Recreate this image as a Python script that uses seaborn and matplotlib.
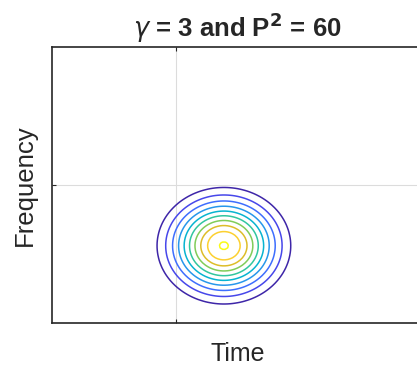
import numpy as np
import matplotlib
matplotlib.use("Agg")
import matplotlib.pyplot as plt
from matplotlib.colors import LinearSegmentedColormap
import seaborn as sns

# time / frequency ranges of the plot (arbitrary units)
time_range = [0.0, 3.0]
freq_range = [0.0, 2.0]
time_ticks = [1.0]
freq_ticks = [1.0]

# pulse: centre, spreads, peak
pulse_center_t = 1.39
pulse_center_f = 0.56
pulse_sigma_t = 0.288
pulse_sigma_f = 0.225
pulse_peak = 0.988

# contour levels (10 evenly spaced lines)
levels = [0.17, 0.26, 0.35, 0.44, 0.53, 0.62, 0.71, 0.80, 0.89, 0.98]

# parula-like colours
parula_anchors = [
    (0.2422, 0.1504, 0.6603), (0.2803, 0.2782, 0.9221), (0.2440, 0.4358, 0.9988),
    (0.1540, 0.5902, 0.9218), (0.0297, 0.7082, 0.8163), (0.1938, 0.7758, 0.6251),
    (0.5044, 0.7993, 0.3480), (0.8634, 0.7406, 0.1596), (0.9892, 0.8136, 0.1885),
    (0.9769, 0.9839, 0.0805),
]
parula = LinearSegmentedColormap.from_list("parula", parula_anchors)

sns.set_style("white")
plt.rcParams["font.family"] = ["Liberation Sans", "DejaVu Sans"]
plt.rcParams["mathtext.fontset"] = "dejavusans"

t = np.linspace(time_range[0], time_range[1], 151)
f = np.linspace(freq_range[0], freq_range[1], 111)
T, F = np.meshgrid(t, f)
Z = pulse_peak * np.exp(-((T - pulse_center_t) ** 2 / (2 * pulse_sigma_t ** 2)
                          + (F - pulse_center_f) ** 2 / (2 * pulse_sigma_f ** 2)))

fig = plt.figure(figsize=(4.17, 3.68), dpi=100)
ax = fig.add_axes([52 / 417, (368 - 323) / 368, 371 / 417, 276 / 368])

ax.contour(T, F, Z, levels=levels, cmap=parula, vmin=levels[0], vmax=levels[-1],
           linewidths=1.1)

ax.set_xlim(time_range)
ax.set_ylim(freq_range)
ax.set_xticks(time_ticks)
ax.set_yticks(freq_ticks)
ax.set_xticklabels([])
ax.set_yticklabels([])
ax.grid(True, color="#dcdcdc", linewidth=0.8)
ax.set_axisbelow(True)
ax.tick_params(direction="in", length=3, width=0.8, color="#262626",
               top=True, right=True, bottom=True, left=True)
for s in ax.spines.values():
    s.set_color("#262626")
    s.set_linewidth(1.2)

ax.set_xlabel("Time", fontsize=18, color="#262626", labelpad=10)
ax.set_ylabel("Frequency", fontsize=18.5, color="#262626", labelpad=7.5)
ax.set_title(r"$\gamma$ = 3 and P$^{\mathbf{2}}$ = 60", fontsize=18.5, fontweight="bold", pad=7)

fig.savefig("out.png", dpi=100)
